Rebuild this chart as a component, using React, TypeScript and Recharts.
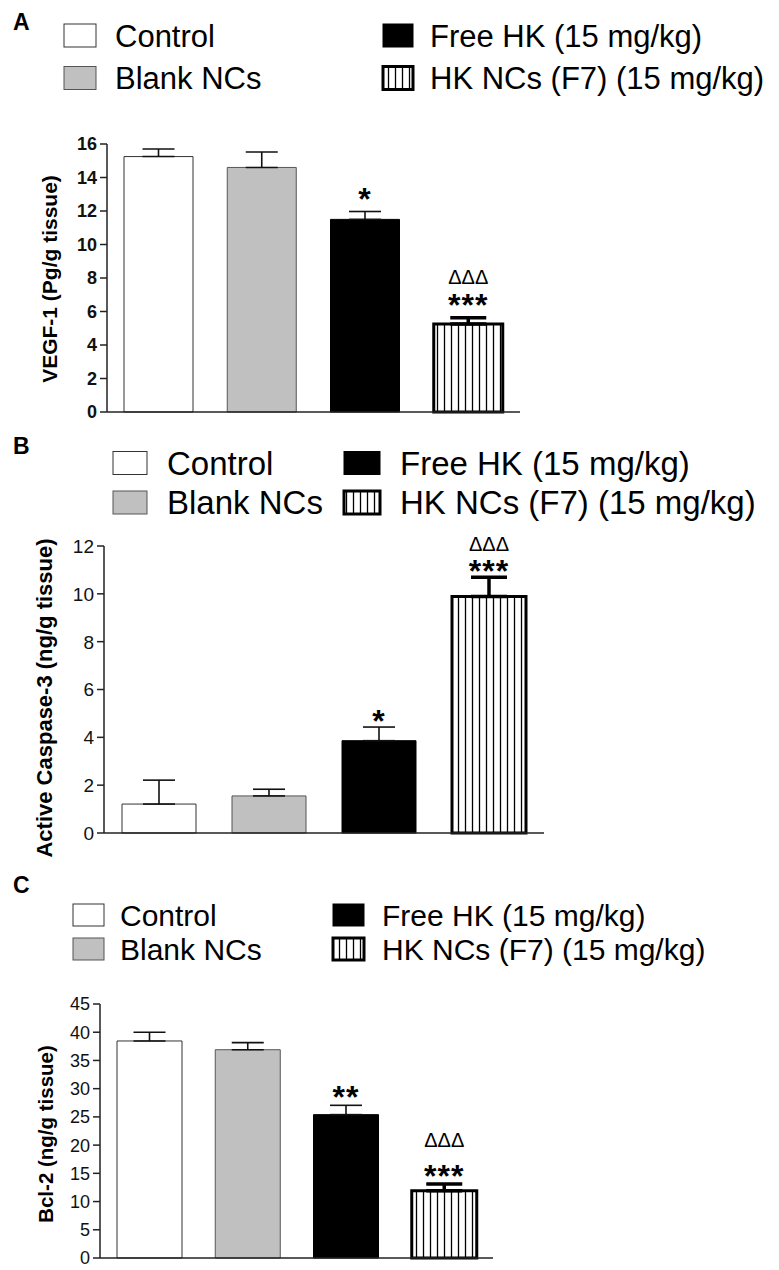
import React from "react";
import { BarChart, Bar, XAxis, YAxis, Cell, ErrorBar, LabelList } from "recharts";

const groups = ["Control", "Blank NCs", "Free HK (15 mg/kg)", "HK NCs (F7) (15 mg/kg)"];

const vegfMean = [15.25, 14.6, 11.5, 5.25];
const vegfSem = [0.45, 0.92, 0.47, 0.38];
const vegfTicks = [0, 2, 4, 6, 8, 10, 12, 14, 16];
const vegfStars = ["", "", "*", "***"];

const caspMean = [1.21, 1.55, 3.86, 9.89];
const caspSem = [1.0, 0.28, 0.57, 0.8];
const caspTicks = [0, 2, 4, 6, 8, 10, 12];
const caspStars = ["", "", "*", "***"];

const bclMean = [38.45, 36.9, 25.4, 11.9];
const bclSem = [1.55, 1.25, 1.65, 1.2];
const bclTicks = [0, 5, 10, 15, 20, 25, 30, 35, 40, 45];
const bclStars = ["", "", "**", "***"];

const deltaMarks = ["", "", "", "ΔΔΔ"];

const fills = ["#ffffff", "#c0c0c0", "#000000", "url(#hkStripes)"];
const strokes = ["#333", "#555", "#000", "#000"];
const strokeWidths = [1, 1, 1, 3];

const font = "'Liberation Sans', Arial, Helvetica, sans-serif";

const buildData = (mean: number[], sem: number[], stars: string[]) =>
  groups.map((g, i) => ({
    group: g,
    mean: mean[i],
    errThin: i < 3 ? [0, sem[i]] : null,
    errThick: i === 3 ? [0, sem[i]] : null,
    star: stars[i],
    delta: deltaMarks[i],
  }));

// label drawn above the error whisker; pixel scale taken from the bar itself
const markLabel =
  (mean: number[], sem: number[], gap: number, fs: number, bold: boolean, lift: number) =>
  (props: any) => {
    const vb = props.viewBox && props.viewBox.width != null ? props.viewBox : props;
    const { x, y, width, height } = vb;
    const { value, index } = props;
    if (!value || index == null) return null;
    const pxPerUnit = height / mean[index];
    const errTop = y - sem[index] * pxPerUnit;
    const cy = errTop - gap;
    return (
      <text
        x={x + width / 2}
        y={cy + lift * fs}
        textAnchor="middle"
        fontFamily={font}
        fontSize={fs}
        fontWeight={bold ? "bold" : "normal"}
        letterSpacing={bold ? 1 : 0}
        fill="#000"
      >
        {value}
      </text>
    );
  };

const yTick = (fs: number, bold: boolean) => (props: any) => {
  const { x, y, payload } = props;
  return (
    <text
      x={x}
      y={y + fs * 0.36}
      textAnchor="end"
      fontFamily={font}
      fontSize={fs}
      fontWeight={bold ? "bold" : "normal"}
      fill="#111"
    >
      {payload.value}
    </text>
  );
};

type PanelProps = {
  mean: number[];
  sem: number[];
  stars: string[];
  ticks: number[];
  axisX: number;
  plotTop: number;
  plotBottom: number;
  plotRight: number;
  barSize: number;
  tickFont: number;
  tickBold: boolean;
  starGap: number;
  deltaGap: number;
};

function Panel(p: PanelProps) {
  const mTop = 40;
  const mBottom = 14;
  const data = buildData(p.mean, p.sem, p.stars);
  const h = mTop + (p.plotBottom - p.plotTop) + 1 + mBottom;
  return (
    <div style={{ position: "absolute", left: 0, top: p.plotTop - mTop }}>
      <BarChart
        width={p.plotRight + 10}
        height={h}
        data={data}
        margin={{ top: mTop, right: 10, left: 0, bottom: mBottom }}
        style={{ overflow: "visible" }}
      >
        <XAxis
          dataKey="group"
          tick={false}
          tickLine={false}
          height={1}
          axisLine={{ stroke: "#222", strokeWidth: 1.5 }}
        />
        <YAxis
          width={p.axisX}
          domain={[0, p.ticks[p.ticks.length - 1]]}
          ticks={p.ticks}
          interval={0}
          tickSize={7}
          tickMargin={3}
          axisLine={{ stroke: "#222", strokeWidth: 1.5 }}
          tickLine={{ stroke: "#222", strokeWidth: 1.5 }}
          tick={yTick(p.tickFont, p.tickBold)}
        />
        <Bar dataKey="mean" barSize={p.barSize} isAnimationActive={false}>
          {data.map((d, i) => (
            <Cell key={d.group} fill={fills[i]} stroke={strokes[i]} strokeWidth={strokeWidths[i]} />
          ))}
          <ErrorBar dataKey="errThin" width={16} stroke="#111" strokeWidth={1.6} />
          <ErrorBar dataKey="errThick" width={18} stroke="#000" strokeWidth={3.5} />
          <LabelList dataKey="star" content={markLabel(p.mean, p.sem, p.starGap, 32, true, 0.58)} />
          <LabelList dataKey="delta" content={markLabel(p.mean, p.sem, p.deltaGap, 20, false, 0.36)} />
        </Bar>
      </BarChart>
    </div>
  );
}

type LegendLayout = {
  col: [number, number, number, number]; // box1 x, text1 x, box2 x, text2 x
  boxW: [number, number];
  rows: [number, number];
  boxH: number;
  fs: number;
};

function Legend({ l }: { l: LegendLayout }) {
  return (
    <g>
      {groups.map((g, i) => {
        const c = i < 2 ? 0 : 1;
        const cy = l.rows[i % 2];
        const bx = l.col[c * 2];
        const tx = l.col[c * 2 + 1];
        return (
          <g key={g}>
            <rect
              x={bx}
              y={cy - l.boxH / 2}
              width={l.boxW[c]}
              height={l.boxH}
              fill={fills[i]}
              stroke={strokes[i]}
              strokeWidth={i === 3 ? 3 : 1}
            />
            <text x={tx} y={cy + l.fs * 0.358} fontFamily={font} fontSize={l.fs} fill="#000">
              {g}
            </text>
          </g>
        );
      })}
    </g>
  );
}

const yTitle = (text: string, cx: number, cy: number, fs: number) => (
  <text
    x={cx}
    y={cy}
    transform={`rotate(-90 ${cx} ${cy})`}
    textAnchor="middle"
    dominantBaseline="central"
    fontFamily={font}
    fontWeight="bold"
    fontSize={fs}
    fill="#000"
  >
    {text}
  </text>
);

const letter = (t: string, x: number, y: number) => (
  <text x={x} y={y} fontFamily={font} fontWeight="bold" fontSize={23} fill="#000">
    {t}
  </text>
);

export default function App() {
  return (
    <div style={{ position: "relative", width: 779, height: 1270, background: "#fff" }}>
      <style>{`body{margin:0;}`}</style>
      <svg width={0} height={0} style={{ position: "absolute" }}>
        <defs>
          <pattern id="hkStripes" width={7} height={10} patternUnits="userSpaceOnUse">
            <rect width={7} height={10} fill="#fff" />
            <line x1={3.5} x2={3.5} y1={0} y2={10} stroke="#000" strokeWidth={1.3} />
          </pattern>
        </defs>
      </svg>

      <Panel
        mean={vegfMean}
        sem={vegfSem}
        stars={vegfStars}
        ticks={vegfTicks}
        axisX={107}
        plotTop={144}
        plotBottom={412}
        plotRight={520}
        barSize={69}
        tickFont={18}
        tickBold={true}
        starGap={20}
        deltaGap={41}
      />
      <Panel
        mean={caspMean}
        sem={caspSem}
        stars={caspStars}
        ticks={caspTicks}
        axisX={104}
        plotTop={546}
        plotBottom={833}
        plotRight={544}
        barSize={74}
        tickFont={19}
        tickBold={false}
        starGap={14}
        deltaGap={34}
      />
      <Panel
        mean={bclMean}
        sem={bclSem}
        stars={bclStars}
        ticks={bclTicks}
        axisX={100}
        plotTop={1004}
        plotBottom={1258}
        plotRight={493}
        barSize={65}
        tickFont={18}
        tickBold={false}
        starGap={16}
        deltaGap={44}
      />

      <svg
        width={779}
        height={1270}
        style={{ position: "absolute", left: 0, top: 0, pointerEvents: "none" }}
      >
        {letter("A", 13, 30)}
        {letter("B", 13, 454)}
        {letter("C", 13, 893)}
        <Legend l={{ col: [64, 115, 383, 430], boxW: [32, 30], rows: [35.5, 78], boxH: 23, fs: 31 }} />
        <Legend l={{ col: [113, 167, 344, 400], boxW: [34, 36], rows: [463, 502.5], boxH: 23, fs: 33 }} />
        <Legend l={{ col: [73, 120, 333, 382], boxW: [31, 31], rows: [915, 949], boxH: 22, fs: 30 }} />
        {yTitle("VEGF-1 (Pg/g tissue)", 49, 279, 21)}
        {yTitle("Active Caspase-3 (ng/g tissue)", 44, 698, 22)}
        {yTitle("Bcl-2 (ng/g tissue)", 45, 1134, 20.5)}
      </svg>
    </div>
  );
}
